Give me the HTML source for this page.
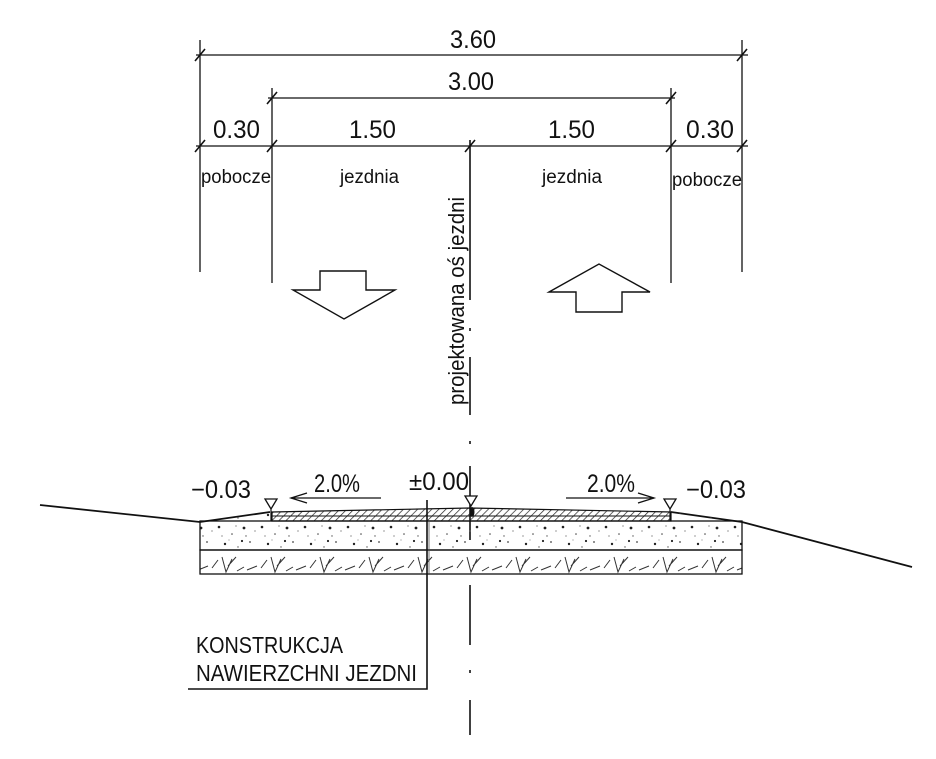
<!DOCTYPE html>
<html><head><style>
html,body{margin:0;padding:0;background:#fff;}
svg{display:block;}
text{font-family:"Liberation Sans",sans-serif;fill:#111;}
</style></head><body>
<svg width="936" height="759" viewBox="0 0 936 759" xmlns="http://www.w3.org/2000/svg">
<defs>
<pattern id="h1" width="5" height="5" patternUnits="userSpaceOnUse" patternTransform="rotate(45)">
<line x1="0" y1="0" x2="0" y2="5" stroke="#222" stroke-width="1.4"/></pattern>
<pattern id="dots" width="43" height="29" patternUnits="userSpaceOnUse">
<circle cx="4" cy="5" r="1.3" fill="#222"/><circle cx="17" cy="12" r="0.8" fill="#444"/>
<circle cx="29" cy="6" r="1.4" fill="#222"/><circle cx="35" cy="20" r="0.9" fill="#444"/>
<circle cx="10" cy="22" r="1.2" fill="#222"/><circle cx="23" cy="25" r="0.7" fill="#555"/>
<circle cx="31" cy="14" r="0.7" fill="#555"/><circle cx="7" cy="14" r="0.6" fill="#555"/>
<circle cx="40" cy="9" r="0.6" fill="#555"/><circle cx="21" cy="4" r="0.6" fill="#555"/>
<circle cx="27" cy="19" r="1.1" fill="#222"/><circle cx="14" cy="18" r="0.5" fill="#555"/>
</pattern>
<pattern id="rub" width="49" height="24" patternUnits="userSpaceOnUse">
<path d="M2 18 L12 14 M16 16 L22 8 M26 5 L30 20 L36 7 M32 14 L40 5 M41 19 L48 15" stroke="#333" stroke-width="1" fill="none"/>
</pattern>
</defs>
<g stroke="#111" stroke-width="1.3" fill="none">
<line x1="196" y1="55" x2="748" y2="55"/>
<line x1="268" y1="98" x2="675" y2="98"/>
<line x1="196" y1="146" x2="748" y2="146"/>
<line x1="200" y1="40" x2="200" y2="272"/>
<line x1="742" y1="40" x2="742" y2="272"/>
<line x1="272" y1="88" x2="272" y2="283"/>
<line x1="671" y1="88" x2="671" y2="283"/>
<g stroke-width="1.6">
<line x1="195" y1="61" x2="205" y2="49"/><line x1="737" y1="61" x2="747" y2="49"/>
<line x1="267" y1="104" x2="277" y2="92"/><line x1="666" y1="104" x2="676" y2="92"/>
<line x1="195" y1="152" x2="205" y2="140"/><line x1="267" y1="152" x2="277" y2="140"/>
<line x1="465" y1="152" x2="475" y2="140"/><line x1="666" y1="152" x2="676" y2="140"/>
<line x1="737" y1="152" x2="747" y2="140"/>
</g>
<g stroke-width="1.6">
<line x1="470" y1="140" x2="470" y2="300"/><line x1="470" y1="328" x2="470" y2="331"/>
<line x1="470" y1="357" x2="470" y2="415"/><line x1="470" y1="441" x2="470" y2="444"/>
<line x1="470" y1="466" x2="470" y2="540"/>
<line x1="470" y1="585" x2="470" y2="645"/><line x1="470" y1="670" x2="470" y2="673"/>
<line x1="470" y1="700" x2="470" y2="735"/>
</g>
<polygon points="293,290 320,290 320,271 366,271 366,290 395,290 344,319" stroke-width="1.4"/>
<polygon points="549,292 599,264 650,292 622,292 622,312 576,312 576,292" stroke-width="1.4"/>
<polyline points="40,505 200,522 270,512" stroke-width="1.8"/>
<polyline points="671,512 742,522 912,567" stroke-width="1.8"/>
</g>
<rect x="200" y="521" width="542" height="29" fill="url(#dots)" stroke="#111" stroke-width="1.3"/>
<rect x="200" y="550" width="542" height="24" fill="url(#rub)" stroke="#111" stroke-width="1.3"/>
<path d="M200 522 L272 512 L272 521 Z M671 512 L742 522 L671 521 Z" fill="url(#dots)"/>
<path d="M272 512 L470 508 L671 512 L671 521 L272 521 Z" fill="url(#h1)" stroke="#111" stroke-width="1.2"/>
<line x1="272" y1="516" x2="671" y2="516" stroke="#111" stroke-width="1"/>
<line x1="429" y1="521" x2="429" y2="574" stroke="#555" stroke-width="0.8"/>
<ellipse cx="472" cy="512" rx="2.5" ry="5" fill="#111"/>
<g stroke="#111" stroke-width="1.3" fill="#fff">
<polygon points="265,499 277,499 271,509"/>
<polygon points="465,496 477,496 471,506"/>
<polygon points="664,499 676,499 670,509"/>
</g>
<line x1="271" y1="509" x2="271" y2="521" stroke="#111" stroke-width="1.2"/>
<line x1="670" y1="509" x2="670" y2="521" stroke="#111" stroke-width="1.2"/>
<g stroke="#111" stroke-width="1.3" fill="none">
<line x1="291" y1="498" x2="381" y2="498"/><polyline points="307,493 291,498 307,503"/>
<line x1="566" y1="498" x2="654" y2="498"/><polyline points="638,493 654,498 638,503"/>
<polyline points="427,500 427,689 188,689" stroke-width="1.6"/>
</g>
<g font-size="25" lengthAdjust="spacingAndGlyphs">
<text x="450" y="48" textLength="46" lengthAdjust="spacingAndGlyphs">3.60</text>
<text x="448" y="90" textLength="46" lengthAdjust="spacingAndGlyphs">3.00</text>
<text x="213" y="138" textLength="47" lengthAdjust="spacingAndGlyphs">0.30</text>
<text x="349" y="138" textLength="47" lengthAdjust="spacingAndGlyphs">1.50</text>
<text x="548" y="138" textLength="47" lengthAdjust="spacingAndGlyphs">1.50</text>
<text x="686" y="138" textLength="48" lengthAdjust="spacingAndGlyphs">0.30</text>
</g>
<g font-size="19">
<text x="201" y="183" textLength="70" lengthAdjust="spacingAndGlyphs">pobocze</text>
<text x="340" y="183" textLength="59" lengthAdjust="spacingAndGlyphs">jezdnia</text>
<text x="542" y="183" textLength="60" lengthAdjust="spacingAndGlyphs">jezdnia</text>
<text x="672" y="186" textLength="70" lengthAdjust="spacingAndGlyphs">pobocze</text>
</g>
<text transform="translate(464,405) rotate(-90)" font-size="22" textLength="208" lengthAdjust="spacingAndGlyphs">projektowana  oś  jezdni</text>
<g font-size="25">
<text x="191" y="498" textLength="60" lengthAdjust="spacingAndGlyphs">−0.03</text>
<text x="314" y="492" textLength="46" lengthAdjust="spacingAndGlyphs">2.0%</text>
<text x="409" y="490" textLength="60" lengthAdjust="spacingAndGlyphs">±0.00</text>
<text x="587" y="492" textLength="48" lengthAdjust="spacingAndGlyphs">2.0%</text>
<text x="686" y="498" textLength="60" lengthAdjust="spacingAndGlyphs">−0.03</text>
</g>
<g font-size="23">
<text x="196" y="653" textLength="147" lengthAdjust="spacingAndGlyphs">KONSTRUKCJA</text>
<text x="196" y="681" textLength="221" lengthAdjust="spacingAndGlyphs">NAWIERZCHNI  JEZDNI</text>
</g>
</svg>
</body></html>
